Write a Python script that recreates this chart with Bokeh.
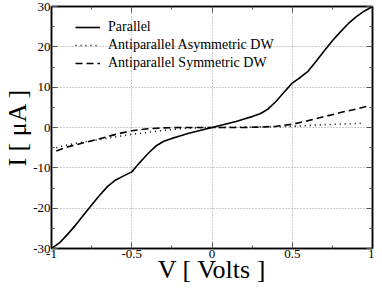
from bokeh.plotting import figure
from bokeh.models import FixedTicker, LinearAxis, Range1d, Legend, LegendItem, CustomJSTickFormatter
from bokeh.embed import file_html
from bokeh.resources import INLINE

# ---- data ----
v_par = [-1.0, -0.95, -0.9, -0.85, -0.8, -0.75, -0.7, -0.65, -0.6, -0.55, -0.5,
         -0.45, -0.4, -0.35, -0.3, -0.25, -0.2, -0.15, -0.1, -0.05, 0.0,
         0.05, 0.1, 0.15, 0.2, 0.25, 0.3, 0.35, 0.4, 0.45, 0.5,
         0.55, 0.6, 0.65, 0.7, 0.75, 0.8, 0.85, 0.9, 0.95, 1.0]
i_par = [-30.0, -28.6, -26.5, -24.2, -21.7, -19.2, -16.8, -14.6, -13.0, -12.0, -11.0,
         -8.7, -6.5, -4.6, -3.4, -2.7, -2.1, -1.5, -1.0, -0.5, 0.0,
         0.5, 1.0, 1.5, 2.1, 2.7, 3.4, 4.6, 6.5, 8.8, 11.0,
         12.4, 14.0, 16.5, 19.0, 21.5, 23.7, 25.8, 27.5, 28.9, 30.0]

v_asym = [-0.97, -0.9, -0.8, -0.7, -0.6, -0.5, -0.4, -0.3, -0.2, -0.1, 0.0,
          0.1, 0.2, 0.3, 0.4, 0.5, 0.6, 0.7, 0.8, 0.9, 0.95]
i_asym = [-5.0, -4.3, -3.6, -3.0, -2.3, -1.7, -1.2, -0.7, -0.3, -0.1, 0.0,
          0.05, 0.1, 0.15, 0.2, 0.3, 0.5, 0.7, 0.85, 1.0, 1.1]

v_sym = [-0.97, -0.9, -0.8, -0.7, -0.6, -0.5, -0.4, -0.3, -0.2, -0.1, 0.0,
         0.1, 0.2, 0.3, 0.4, 0.5, 0.6, 0.7, 0.8, 0.9, 0.97]
i_sym = [-5.8, -4.8, -3.8, -2.8, -1.7, -0.8, -0.3, -0.1, 0.0, 0.0, 0.0,
         0.0, 0.0, 0.1, 0.3, 0.8, 1.7, 2.7, 3.7, 4.6, 5.3]

series_names = ["Parallel", "Antiparallel Asymmetric DW", "Antiparallel Symmetric DW"]

x_ticks = [-1, -0.5, 0, 0.5, 1]
x_tick_labels = ["-1", "-0.5", "0", "0.5", "1"]
x_minor = [-0.75, -0.25, 0.25, 0.75]
y_ticks = [-30, -20, -10, 0, 10, 20, 30]
y_tick_labels = ["-30", "-20", "-10", "0", "10", "20", "30"]
y_minor = [-25, -15, -5, 5, 15, 25]

SERIF = "Liberation Serif"

p = figure(width=374, height=286, output_backend="svg", toolbar_location=None,
           x_range=Range1d(-1, 1), y_range=Range1d(-30, 30),
           min_border_left=40, min_border_right=2, min_border_top=6, min_border_bottom=30)
p.background_fill_color = "white"
p.border_fill_color = "white"
p.outline_line_color = "black"
p.outline_line_width = 1.5

r1 = p.line(v_par, i_par, line_color="black", line_width=1.6)
r2 = p.line(v_asym, i_asym, line_color="black", line_width=1.6, line_dash="1 4")
r3 = p.line(v_sym, i_sym, line_color="black", line_width=1.6, line_dash="7 4")

xt = FixedTicker(ticks=x_ticks, minor_ticks=x_minor)
yt = FixedTicker(ticks=y_ticks, minor_ticks=y_minor)

def style_axis(ax, ticker, labels=None):
    ax.ticker = ticker
    ax.axis_line_color = "black"
    ax.axis_line_width = 1.5
    ax.major_tick_in = 6
    ax.major_tick_out = 0
    ax.minor_tick_in = 3
    ax.minor_tick_out = 0
    ax.major_tick_line_color = "#555555"
    ax.minor_tick_line_color = "#555555"
    ax.major_label_text_font = SERIF
    ax.major_label_text_font_size = "13px"
    ax.major_label_text_color = "black"
    ax.major_label_standoff = 1
    if labels is not None:
        ax.major_label_overrides = labels

style_axis(p.xaxis[0], xt, {t: l for t, l in zip(x_ticks, x_tick_labels)})
style_axis(p.yaxis[0], yt, {t: l for t, l in zip(y_ticks, y_tick_labels)})
p.xaxis[0].axis_label = "V [ Volts ]"
p.yaxis[0].axis_label = "I [ μA ]"
for ax in (p.xaxis[0], p.yaxis[0]):
    ax.axis_label_text_font = SERIF
    ax.axis_label_text_font_size = "26px"
    ax.axis_label_text_font_style = "normal"
    ax.axis_label_text_color = "black"
p.xaxis[0].axis_label_standoff = -6
p.yaxis[0].axis_label_standoff = -2

top_ax = LinearAxis()
right_ax = LinearAxis()
style_axis(top_ax, xt)
style_axis(right_ax, yt)
for ax in (top_ax, right_ax):
    ax.formatter = CustomJSTickFormatter(code="return '';")
    ax.major_label_standoff = 0
p.add_layout(top_ax, "above")
p.add_layout(right_ax, "right")

p.xgrid[0].ticker = xt
p.ygrid[0].ticker = yt
for g in (p.xgrid[0], p.ygrid[0]):
    g.grid_line_color = "#9a9a9a"
    g.grid_line_dash = "1 2"
    g.grid_line_width = 1

legend = Legend(items=[LegendItem(label=series_names[0], renderers=[r1]),
                       LegendItem(label=series_names[1], renderers=[r2]),
                       LegendItem(label=series_names[2], renderers=[r3])],
                location=(24, 177))
legend.background_fill_alpha = 0
legend.border_line_color = None
legend.label_text_font = SERIF
legend.label_text_font_size = "14px"
legend.label_text_color = "black"
legend.glyph_width = 25
legend.glyph_height = 14
legend.label_height = 16
legend.label_standoff = 8
legend.spacing = 2
legend.padding = 2
legend.margin = 0
p.add_layout(legend, "center")

open("out.html", "w").write(file_html(p, INLINE))
